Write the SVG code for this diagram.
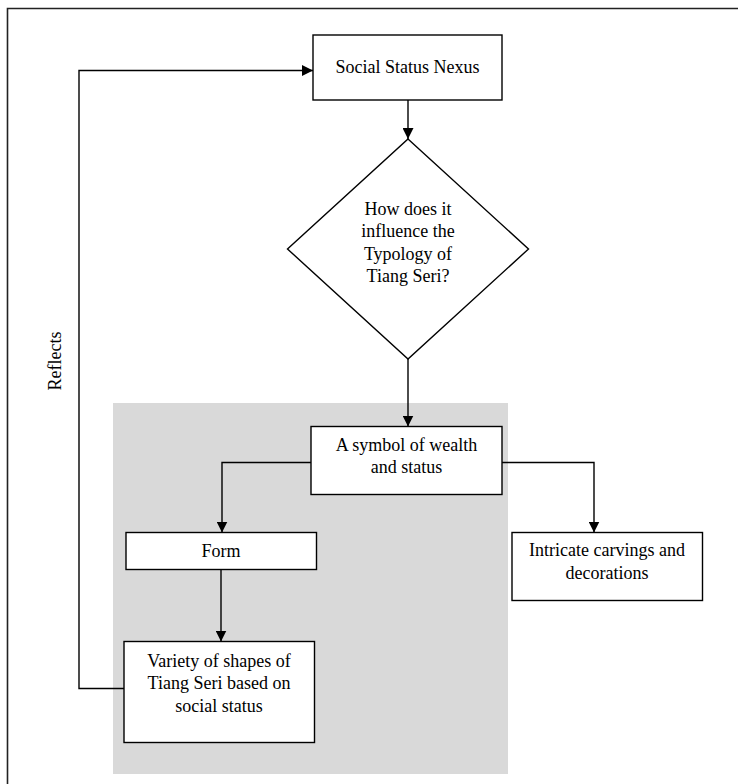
<svg xmlns="http://www.w3.org/2000/svg" width="738" height="784" viewBox="0 0 738 784">
<defs>
<marker id="arr" viewBox="0 0 11 11" refX="11" refY="5.5" markerWidth="11" markerHeight="11" markerUnits="userSpaceOnUse" orient="auto">
<path d="M0,0 L11,5.5 L0,11 z" fill="#000"/>
</marker>
<style>
.box{fill:#fff;stroke:#000;stroke-width:1.4}
.t{font-family:"Liberation Serif","Times New Roman",serif;font-size:18px;fill:#000;text-anchor:middle}
.c{fill:none;stroke:#000;stroke-width:1.4}
.ca{fill:none;stroke:#000;stroke-width:1.4;marker-end:url(#arr)}
</style>
</defs>
<rect width="738" height="784" fill="#fff"/>
<path d="M7.5,784 V8.5 H738" fill="none" stroke="#222" stroke-width="1.6"/>
<rect id="group-bg" x="113" y="403" width="395" height="371" fill="#d9d9d9"/>
<g id="connectors">
<path class="ca" d="M408,100 V139"/>
<path class="ca" d="M408,359 V426.5"/>
<path class="ca" d="M311,462.5 H222 V532.5"/>
<path class="ca" d="M502,462.5 H594 V532.5"/>
<path class="ca" d="M221,569.5 V641.5"/>
<path class="ca" d="M124,688.5 H79 V70.5 H313"/>
</g>
<text class="t" transform="translate(61,361) rotate(-90)">Reflects</text>
<g id="n-social">
<rect class="box" x="313" y="35" width="189" height="65"/>
<text class="t" x="407.5" y="73">Social Status Nexus</text>
</g>
<g id="n-question">
<polygon class="box" points="408,139 528.5,249 408,359 287.5,249"/>
<text class="t" x="408" y="215">How does it</text>
<text class="t" x="408" y="237">influence the</text>
<text class="t" x="408" y="259.5">Typology of</text>
<text class="t" x="408" y="282">Tiang Seri?</text>
</g>
<g id="n-symbol">
<rect class="box" x="311" y="426.5" width="191" height="68"/>
<text class="t" x="406.5" y="451">A symbol of wealth</text>
<text class="t" x="406.5" y="473">and status</text>
</g>
<g id="n-form">
<rect class="box" x="126" y="532.5" width="190.5" height="37"/>
<text class="t" x="221" y="556.5">Form</text>
</g>
<g id="n-variety">
<rect class="box" x="124" y="641.5" width="190.5" height="101"/>
<text class="t" x="219" y="666.5">Variety of shapes of</text>
<text class="t" x="219" y="689">Tiang Seri based on</text>
<text class="t" x="219" y="711.5">social status</text>
</g>
<g id="n-intricate">
<rect class="box" x="512" y="532.5" width="190.5" height="68"/>
<text class="t" x="607" y="556">Intricate carvings and</text>
<text class="t" x="607" y="579">decorations</text>
</g>
</svg>
